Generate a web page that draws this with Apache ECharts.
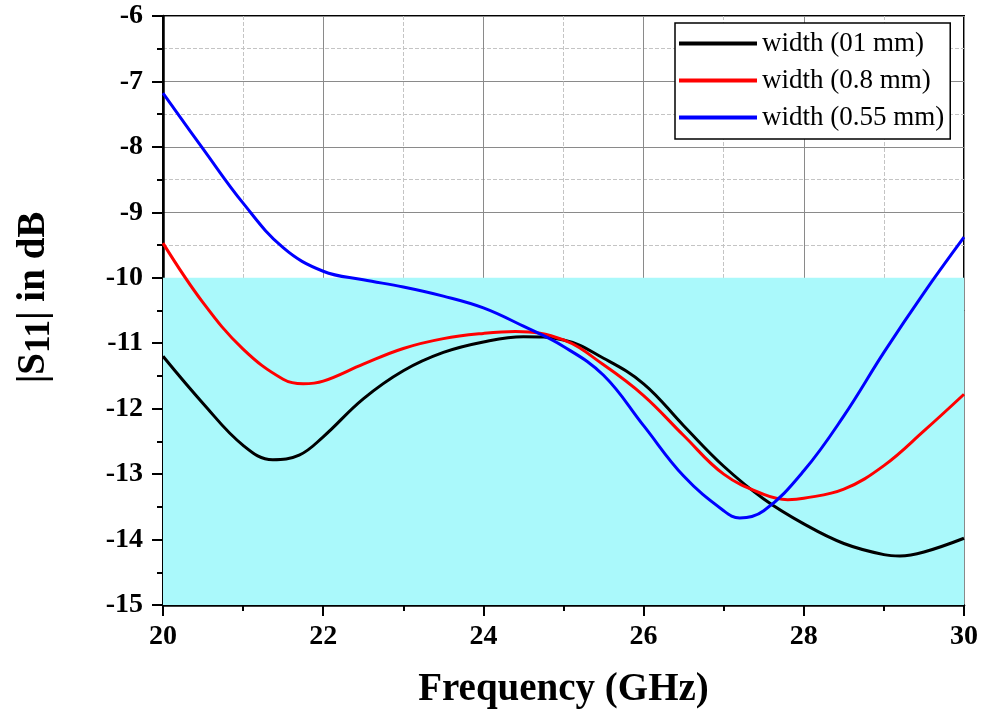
<!DOCTYPE html>
<html>
<head>
<meta charset="utf-8">
<script src="https://cdn.jsdelivr.net/npm/echarts@6/dist/echarts.min.js"></script>
</head>
<body style="margin:0;background:#fff">
<div id="main" style="width:984px;height:719px"></div>
<script>
// frequency (GHz), |S11| (dB)
const black = [[20,-11.2],[20.5,-11.92],[21,-12.56],[21.37,-12.78],[21.7,-12.71],[22,-12.43],[22.5,-11.85],[23,-11.42],[23.5,-11.14],[24,-10.98],[24.5,-10.9],[25,-10.95],[25.5,-11.23],[26,-11.62],[26.5,-12.26],[27,-12.88],[27.5,-13.38],[28,-13.76],[28.5,-14.06],[29,-14.23],[29.2,-14.25],[29.5,-14.19],[30,-13.98]];
const red = [[20,-9.47],[20.5,-10.38],[21,-11.09],[21.5,-11.55],[21.75,-11.62],[22,-11.58],[22.5,-11.32],[23,-11.08],[23.5,-10.93],[24,-10.85],[24.4,-10.82],[25,-10.95],[25.5,-11.33],[26,-11.8],[26.5,-12.41],[27,-13.0],[27.5,-13.31],[27.8,-13.39],[28,-13.37],[28.5,-13.23],[29,-12.87],[29.5,-12.34],[30,-11.78]];
const blue = [[20,-7.18],[20.5,-8.03],[21,-8.86],[21.5,-9.54],[22,-9.9],[22.5,-10.03],[23,-10.14],[23.5,-10.28],[24,-10.46],[24.5,-10.74],[25,-11.05],[25.5,-11.49],[26,-12.26],[26.5,-13.03],[27,-13.56],[27.2,-13.67],[27.5,-13.56],[28,-12.95],[28.5,-12.11],[29,-11.14],[29.5,-10.23],[30,-9.38]];
const names = ['width (01 mm)', 'width (0.8 mm)', 'width (0.55 mm)'];
const colors = ['#000000', '#ff0000', '#0000ff'];
const bandTop = -10, bandBottom = -15;

var chart = echarts.init(document.getElementById('main'));
var font = 'Liberation Serif';
var option = {
  backgroundColor: '#fff',
  animation: false,
  grid: { left: 163, right: 20, top: 16, bottom: 114, show: true, borderColor: '#000', borderWidth: 2 },
  legend: {
    data: names,
    orient: 'vertical',
    left: 675, top: 23,
    itemWidth: 78, itemHeight: 4, itemGap: 10,
    icon: 'rect',
    padding: [7, 6, 8, 4],
    borderColor: '#000', borderWidth: 1.5,
    backgroundColor: '#fff',
    textStyle: { fontFamily: font, fontSize: 27, color: '#000' }
  },
  xAxis: {
    type: 'value', min: 20, max: 30, interval: 2,
    name: 'Frequency (GHz)', nameLocation: 'middle', nameGap: 65,
    nameTextStyle: { fontFamily: font, fontSize: 39, fontWeight: 'bold', color: '#000' },
    axisLine: { lineStyle: { color: '#000', width: 2.5 } },
    axisTick: { inside: false, length: 11, lineStyle: { color: '#000', width: 2 } },
    minorTick: { show: true, splitNumber: 2, length: 6, lineStyle: { color: '#000', width: 2 } },
    axisLabel: { fontFamily: font, fontSize: 28, fontWeight: 'bold', color: '#000', margin: 18 },
    splitLine: { show: true, lineStyle: { color: '#8a8a8a', width: 1 } },
    minorSplitLine: { show: true, lineStyle: { color: '#c4c4c4', type: 'dashed', width: 1 } }
  },
  yAxis: {
    type: 'value', min: -15, max: -6, interval: 1,
    name: '{a||S}{s|11}{a|| in dB}', nameLocation: 'middle', nameGap: 106, nameRotate: 90,
    nameTextStyle: {
      padding: [0, 0, 0, 26],
      rich: {
        a: { fontFamily: font, fontSize: 39, fontWeight: 'bold', color: '#000' },
        s: { fontFamily: font, fontSize: 35, fontWeight: 'bold', color: '#000', padding: [12, 0, 0, 0] }
      }
    },
    axisLine: { lineStyle: { color: '#000', width: 2.5 } },
    axisTick: { inside: false, length: 11, lineStyle: { color: '#000', width: 2 } },
    minorTick: { show: true, splitNumber: 2, length: 6, lineStyle: { color: '#000', width: 2 } },
    axisLabel: { fontFamily: font, fontSize: 28, fontWeight: 'bold', color: '#000', margin: 20 },
    splitLine: { show: true, lineStyle: { color: '#8a8a8a', width: 1 } },
    minorSplitLine: { show: true, lineStyle: { color: '#c4c4c4', type: 'dashed', width: 1 } }
  },
  series: [
    {
      type: 'line', data: [], z: -1, silent: true,
      markArea: {
        silent: true,
        itemStyle: { color: '#aaf9fb' },
        data: [[{ yAxis: bandTop }, { yAxis: bandBottom }]]
      }
    }
  ]
};
[black, red, blue].forEach(function (d, i) {
  option.series.push({
    name: names[i], type: 'line', data: d, smooth: 0.4, showSymbol: false,
    lineStyle: { color: colors[i], width: 3 }, itemStyle: { color: colors[i] }, z: 3
  });
});
chart.setOption(option);
</script>
</body>
</html>
